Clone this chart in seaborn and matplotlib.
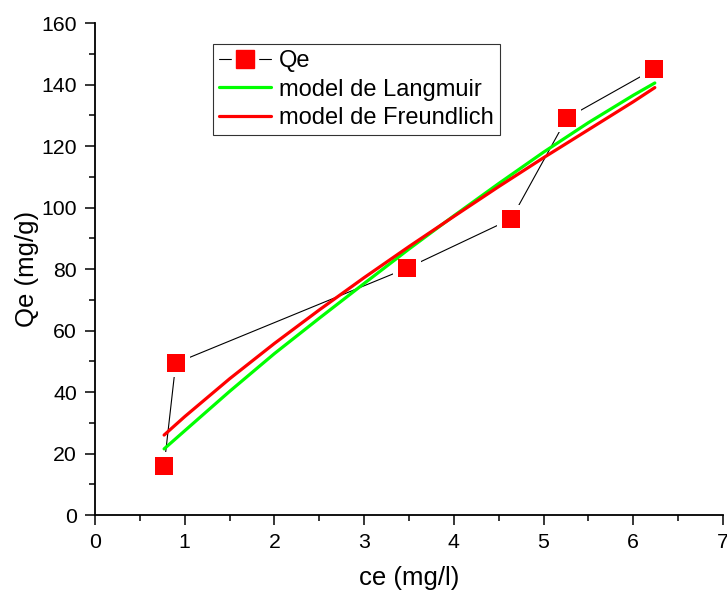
import numpy as np
import pandas as pd
import seaborn as sns
import matplotlib.pyplot as plt
from matplotlib.lines import Line2D
from matplotlib.legend_handler import HandlerTuple

ce = [0.77, 0.90, 3.48, 4.64, 5.26, 6.23]
qe = [15.9, 49.4, 80.3, 96.3, 129.1, 145.0]

# Fitted model curves
ce_fit = [0.77, 1.0, 1.5, 2.0, 2.5, 3.0, 3.5, 4.0, 4.5, 5.0, 5.5, 6.0, 6.24]
q_langmuir = [21.5, 27.4, 40.2, 52.5, 64.0, 75.3, 86.5, 97.3, 107.8, 118.0, 127.6, 136.5, 140.5]
q_freundlich = [26.0, 32.0, 44.3, 55.8, 66.7, 77.2, 87.3, 97.1, 106.8, 116.2, 125.3, 134.4, 139.0]

df_pts = pd.DataFrame({'ce': ce, 'Qe': qe})
df_fit = pd.DataFrame({'ce': ce_fit, 'Langmuir': q_langmuir, 'Freundlich': q_freundlich})

sns.set_style('ticks')
plt.rcParams['font.family'] = ['Liberation Sans', 'DejaVu Sans']
plt.rcParams['text.color'] = 'black'
plt.rcParams['axes.labelcolor'] = 'black'
plt.rcParams['xtick.color'] = 'black'
plt.rcParams['ytick.color'] = 'black'

fig = plt.figure(figsize=(7.27, 5.9), dpi=100)
ax = fig.add_axes([0.1307, 0.1271, 0.8638, 0.8339])

# black connecting line, white squares to leave gaps, then the fits and the red squares
sns.lineplot(data=df_pts, x='ce', y='Qe', sort=False, color='black', linewidth=0.8, ax=ax, zorder=2)
sns.scatterplot(data=df_pts, x='ce', y='Qe', marker='s', s=20**2, color='white',
                edgecolor='none', linewidth=0, ax=ax, zorder=2.5)
sns.lineplot(data=df_fit, x='ce', y='Langmuir', color='#00ff00', linewidth=2.3, ax=ax, zorder=3)
sns.lineplot(data=df_fit, x='ce', y='Freundlich', color='#ff0000', linewidth=2.3, ax=ax, zorder=3.1)
sns.scatterplot(data=df_pts, x='ce', y='Qe', marker='s', s=13**2, color='#ff0000',
                edgecolor='none', linewidth=0, ax=ax, zorder=4)

ax.set_xlim(0, 7)
ax.set_ylim(0, 160)
ax.set_xticks(np.arange(0, 8, 1))
ax.set_xticks(np.arange(0.5, 7, 1), minor=True)
ax.set_yticks(np.arange(0, 161, 20))
ax.set_yticks(np.arange(10, 160, 20), minor=True)
ax.tick_params(which='major', direction='out', length=7, width=1.1, labelsize=15.3, pad=6)
ax.tick_params(which='minor', direction='out', length=4, width=1.1)
sns.despine(ax=ax)
for sp in ['left', 'bottom']:
    ax.spines[sp].set_linewidth(1.3)
    ax.spines[sp].set_color('black')

ax.set_xlabel('ce (mg/l)', fontsize=18.5, labelpad=10)
ax.set_ylabel('Qe (mg/g)', fontsize=18.5, labelpad=2)

# legend: Qe handle is line + white gap square + red square, drawn on top of each other
h_line = Line2D([], [], color='black', linewidth=0.8)
h_gap = Line2D([], [], linestyle='none', marker='s', markersize=19, color='white')
h_sq = Line2D([], [], linestyle='none', marker='s', markersize=13, color='#ff0000')
h_lang = Line2D([], [], color='#00ff00', linewidth=2.3)
h_freu = Line2D([], [], color='#ff0000', linewidth=2.3)
leg = ax.legend([(h_line, h_gap, h_sq), h_lang, h_freu],
                ['Qe', 'model de Langmuir', 'model de Freundlich'],
                handler_map={tuple: HandlerTuple(ndivide=1)},
                loc='upper left', bbox_to_anchor=(0.188, 0.957), borderaxespad=0,
                fontsize=17, frameon=True, fancybox=False, edgecolor='black',
                handlelength=2.2, handletextpad=0.35, labelspacing=0.28, borderpad=0.25)
leg.get_frame().set_linewidth(0.8)

plt.savefig('out.png', dpi=100)
